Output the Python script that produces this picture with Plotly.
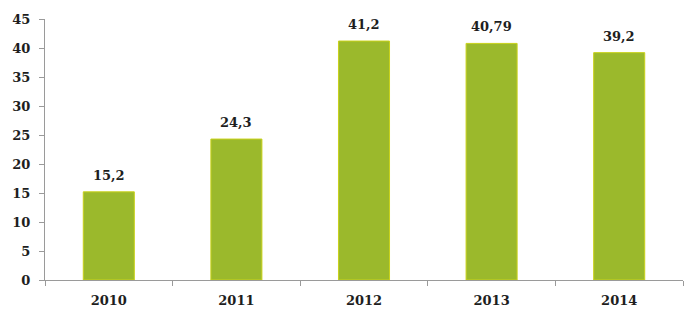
import plotly.graph_objects as go

years = ["2010", "2011", "2012", "2013", "2014"]
values = [15.2, 24.3, 41.2, 40.79, 39.2]
labels = ["15,2", "24,3", "41,2", "40,79", "39,2"]
y_ticks = [0, 5, 10, 15, 20, 25, 30, 35, 40, 45]

FONT = dict(family="DejaVu Serif", size=13, color="#1e1e1e", weight="bold")

fig = go.Figure(go.Bar(
    x=years, y=values,
    marker=dict(color="#9bb92c", line=dict(color="#c9d21a", width=1)),
    width=0.4,
))

# annotations on a category axis: x given as category index
for i, (y, t) in enumerate(zip(values, labels)):
    fig.add_annotation(x=i, y=y, text=t, showarrow=False, yanchor="bottom",
                       yshift=7, font=FONT)

fig.update_layout(
    width=700, height=329,
    margin=dict(l=43, r=17, t=13, b=49),
    paper_bgcolor="white", plot_bgcolor="white",
    showlegend=False,
    font=FONT,
)
fig.update_xaxes(
    type="category", categoryorder="array", categoryarray=years,
    showline=True, linecolor="#9a9a9a", linewidth=1,
    ticks="outside", tickson="boundaries", ticklen=5, tickcolor="#9a9a9a",
    showgrid=False, tickfont=FONT, ticklabelstandoff=8,
)
fig.update_yaxes(
    range=[0, 45], tickvals=y_ticks, showgrid=False, zeroline=False,
    showline=True, linecolor="#9a9a9a", linewidth=1,
    ticks="outside", ticklen=5, tickcolor="#9a9a9a",
    tickfont=FONT, ticklabelstandoff=6,
)

fig.write_html("out.html")
